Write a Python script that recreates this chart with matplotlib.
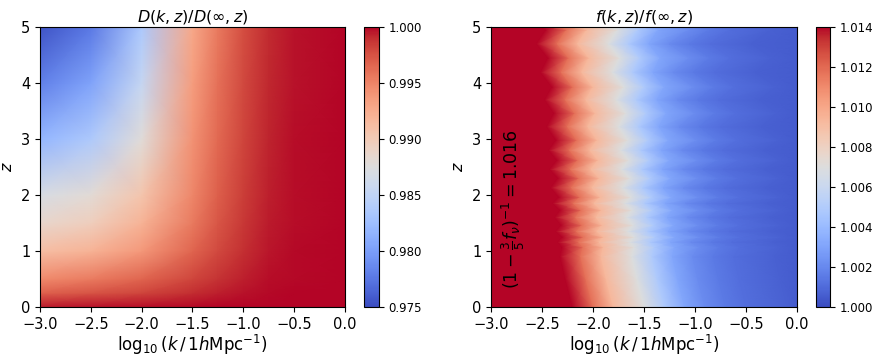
import numpy as np
import matplotlib
matplotlib.use("Agg")
import matplotlib.pyplot as plt
from matplotlib.ticker import FormatStrFormatter

# ── LEFT PANEL: D(k,z)/D(inf,z) read on a coarse grid ───────────
k_D = [-3.0, -2.5, -2.0, -1.5, -1.25, -1.0, -0.75, -0.5, 0.0]
z_D = [0.0, 0.25, 0.5, 1.0, 1.5, 2.0, 3.0, 4.0, 5.0]
D_ratio = [
    [0.9995, 0.9997, 0.9998, 0.9999, 1.0000, 1.0000, 1.0000, 1.0000, 1.0000],
    [0.9968, 0.9974, 0.9981, 0.9990, 0.9994, 0.9997, 0.9999, 1.0000, 1.0000],
    [0.9947, 0.9955, 0.9966, 0.9981, 0.9988, 0.9994, 0.9998, 0.9999, 1.0000],
    [0.9912, 0.9920, 0.9938, 0.9966, 0.9979, 0.9989, 0.9996, 0.9999, 1.0000],
    [0.9886, 0.9896, 0.9920, 0.9956, 0.9973, 0.9986, 0.9995, 0.9998, 1.0000],
    [0.9870, 0.9880, 0.9906, 0.9949, 0.9969, 0.9984, 0.9994, 0.9998, 1.0000],
    [0.9818, 0.9836, 0.9878, 0.9942, 0.9964, 0.9981, 0.9993, 0.9998, 1.0000],
    [0.9781, 0.9803, 0.9854, 0.9935, 0.9960, 0.9979, 0.9992, 0.9997, 1.0000],
    [0.9754, 0.9776, 0.9835, 0.9928, 0.9956, 0.9977, 0.9991, 0.9997, 1.0000],
]

# ── RIGHT PANEL: f(k,z)/f(inf,z) ─────────────────────────────────
# levels of the ratio (in units of 1e-4 above 1) and, for each z row,
# the log10 k where the colour reaches that level
f_levels = [160, 155, 141, 118, 93, 70, 49, 31, 21, 15, 11, 7, 5]
z_f = [0.00, 0.50, 0.90, 1.07, 1.16, 1.25, 1.35, 1.46, 1.60, 1.73, 1.85, 1.96,
       2.13, 2.30, 2.46, 2.62, 2.80, 2.98, 3.22, 3.46, 3.70, 3.93, 4.19, 4.45,
       4.70, 4.95, 5.00]
k_at_level = [
    [-3.0, -2.35, -2.20, -2.00, -1.80, -1.50, -1.30, -1.10, -0.90, -0.70, -0.50, -0.10, 0.0],
    [-3.0, -2.42, -2.27, -2.07, -1.87, -1.57, -1.37, -1.17, -0.97, -0.77, -0.57, -0.17, 0.0],
    [-3.0, -2.47, -2.32, -2.12, -1.92, -1.62, -1.42, -1.22, -1.02, -0.82, -0.62, -0.22, 0.0],
    [-3.0, -2.45, -2.30, -2.10, -1.90, -1.60, -1.40, -1.20, -0.96, -0.76, -0.56, -0.16, 0.0],
    [-3.0, -2.49, -2.34, -2.14, -1.94, -1.64, -1.44, -1.24, -1.04, -0.84, -0.64, -0.24, 0.0],
    [-3.0, -2.45, -2.30, -2.10, -1.90, -1.60, -1.40, -1.20, -0.95, -0.75, -0.55, -0.15, 0.0],
    [-3.0, -2.51, -2.36, -2.16, -1.96, -1.66, -1.46, -1.26, -1.06, -0.86, -0.66, -0.26, 0.0],
    [-3.0, -2.46, -2.31, -2.11, -1.91, -1.61, -1.41, -1.21, -0.96, -0.76, -0.56, -0.16, 0.0],
    [-3.0, -2.52, -2.37, -2.17, -1.97, -1.67, -1.47, -1.27, -1.07, -0.87, -0.67, -0.27, 0.0],
    [-3.0, -2.47, -2.32, -2.12, -1.92, -1.62, -1.42, -1.22, -0.96, -0.76, -0.56, -0.16, 0.0],
    [-3.0, -2.54, -2.39, -2.19, -1.99, -1.69, -1.49, -1.29, -1.09, -0.89, -0.69, -0.29, 0.0],
    [-3.0, -2.48, -2.33, -2.13, -1.93, -1.63, -1.43, -1.23, -0.96, -0.76, -0.56, -0.16, 0.0],
    [-3.0, -2.56, -2.41, -2.21, -2.01, -1.71, -1.51, -1.31, -1.11, -0.91, -0.71, -0.31, 0.0],
    [-3.0, -2.49, -2.34, -2.14, -1.94, -1.64, -1.44, -1.24, -0.97, -0.77, -0.57, -0.17, 0.0],
    [-3.0, -2.57, -2.42, -2.22, -2.02, -1.72, -1.52, -1.32, -1.12, -0.92, -0.72, -0.32, 0.0],
    [-3.0, -2.50, -2.35, -2.15, -1.95, -1.65, -1.45, -1.25, -0.97, -0.77, -0.57, -0.17, 0.0],
    [-3.0, -2.58, -2.43, -2.23, -2.03, -1.73, -1.53, -1.33, -1.13, -0.93, -0.73, -0.33, 0.0],
    [-3.0, -2.51, -2.36, -2.16, -1.96, -1.66, -1.46, -1.26, -0.98, -0.78, -0.58, -0.18, 0.0],
    [-3.0, -2.60, -2.45, -2.25, -2.05, -1.75, -1.55, -1.35, -1.15, -0.95, -0.75, -0.35, 0.0],
    [-3.0, -2.53, -2.38, -2.18, -1.98, -1.68, -1.48, -1.28, -1.00, -0.80, -0.60, -0.20, 0.0],
    [-3.0, -2.62, -2.47, -2.27, -2.07, -1.77, -1.57, -1.37, -1.17, -0.97, -0.77, -0.37, 0.0],
    [-3.0, -2.55, -2.40, -2.20, -2.00, -1.70, -1.50, -1.30, -1.01, -0.81, -0.61, -0.21, 0.0],
    [-3.0, -2.66, -2.51, -2.31, -2.11, -1.81, -1.61, -1.41, -1.21, -1.01, -0.81, -0.41, 0.0],
    [-3.0, -2.59, -2.44, -2.24, -2.04, -1.74, -1.54, -1.34, -1.05, -0.85, -0.65, -0.25, 0.0],
    [-3.0, -2.70, -2.55, -2.35, -2.15, -1.85, -1.65, -1.45, -1.25, -1.05, -0.85, -0.45, 0.0],
    [-3.0, -2.61, -2.46, -2.26, -2.06, -1.76, -1.56, -1.36, -1.06, -0.86, -0.66, -0.26, 0.0],
    [-3.0, -2.65, -2.50, -2.30, -2.10, -1.80, -1.60, -1.40, -1.15, -0.95, -0.75, -0.35, 0.0],
]

D_ticks = [0.975, 0.980, 0.985, 0.990, 0.995, 1.000]
f_ticks = [1.000, 1.002, 1.004, 1.006, 1.008, 1.010, 1.012, 1.014]
x_ticks = [-3.0, -2.5, -2.0, -1.5, -1.0, -0.5, 0.0]
XLABEL = r"$\log_{10}(k\,/\,1h\mathrm{Mpc}^{-1})$"

W, H = 879, 358
fig = plt.figure(figsize=(W / 100, H / 100), dpi=100)

def box(x0, y0, x1, y1):
    # pixel box -> figure fraction
    return [x0 / W, 1 - y1 / H, (x1 - x0) / W, (y1 - y0) / H]

ax1 = fig.add_axes(box(40, 27, 345, 307))
cax1 = fig.add_axes(box(364, 27, 379, 307))
ax2 = fig.add_axes(box(491, 27, 797, 307))
cax2 = fig.add_axes(box(816, 27, 830, 307))

# left
KD, ZD = np.meshgrid(k_D, z_D)
m1 = ax1.pcolormesh(KD, ZD, np.array(D_ratio), shading="gouraud",
                    cmap="coolwarm", vmin=0.975, vmax=1.0, rasterized=True)
ax1.set_title(r"$D(k,z)/D(\infty,z)$", fontsize=11.5, pad=4)
cb1 = fig.colorbar(m1, cax=cax1, ticks=D_ticks)

# right (curvilinear mesh: k position of each level on each z row)
KF = np.array(k_at_level)
ZF = np.repeat(np.array(z_f)[:, None], KF.shape[1], axis=1)
CF = 1 + np.tile(np.array(f_levels) * 1e-4, (len(z_f), 1))
m2 = ax2.pcolormesh(KF, ZF, CF, shading="gouraud",
                    cmap="coolwarm", vmin=1.0, vmax=1.014, rasterized=True)
ax2.set_title(r"$f(k,z)/f(\infty,z)$", fontsize=11.5, pad=4)
cb2 = fig.colorbar(m2, cax=cax2, ticks=f_ticks)
ax2.text(-2.78, 1.75, r"$(1-\frac{3}{5}f_\nu)^{-1}=1.016$", rotation=90,
         fontsize=12.5, ha="center", va="center", color="black")

for ax in (ax1, ax2):
    ax.set_xlim(-3, 0)
    ax.set_ylim(0, 5)
    ax.set_xticks(x_ticks)
    ax.set_yticks([0, 1, 2, 3, 4, 5])
    ax.tick_params(labelsize=10.5)
    ax.set_xlabel(XLABEL, fontsize=12, labelpad=1)
    ax.set_ylabel(r"$z$", fontsize=11.5, labelpad=4)

for cb in (cb1, cb2):
    cb.ax.yaxis.set_major_formatter(FormatStrFormatter("%.3f"))
    cb.ax.tick_params(labelsize=8.5)

fig.savefig("out.png", dpi=100)
